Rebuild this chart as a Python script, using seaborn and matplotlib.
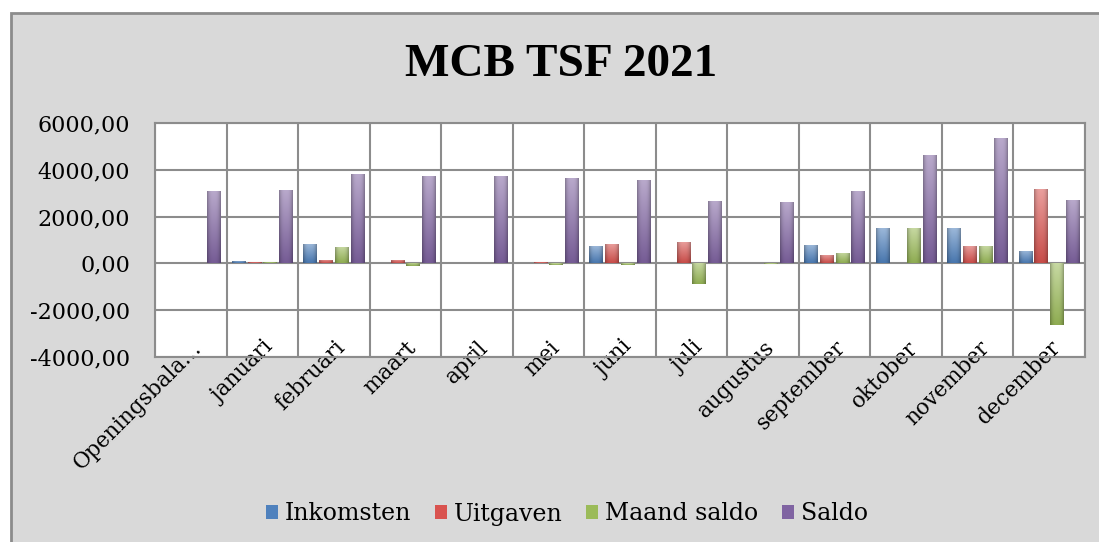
import numpy as np
import pandas as pd
import matplotlib
matplotlib.use("Agg")
import matplotlib.pyplot as plt
import matplotlib.colors as mcolors
import matplotlib.transforms as mtransforms
import seaborn as sns
from matplotlib.patches import Rectangle
from matplotlib.ticker import FuncFormatter, MultipleLocator

# chart data
months = ["Openingsbala…", "januari", "februari", "maart", "april", "mei", "juni",
          "juli", "augustus", "september", "oktober", "november", "december"]
inkomsten = [0, 120, 815, 0, 0, 0, 730, 0, 0, 800, 1500, 1500, 550]
uitgaven = [0, 70, 130, 130, 0, 80, 815, 900, 30, 380, 0, 760, 3200]
maand_saldo = [0, 50, 685, -130, 0, -80, -85, -900, -30, 440, 1500, 760, -2650]
saldo = [3100, 3150, 3830, 3720, 3720, 3640, 3550, 2650, 2640, 3100, 4620, 5350, 2700]
series = ["Inkomsten", "Uitgaven", "Maand saldo", "Saldo"]
colors = ["#4f81bd", "#d9534f", "#9bbb59", "#8064a2"]

df = pd.DataFrame({
    "maand": months * 4,
    "reeks": np.repeat(series, len(months)),
    "waarde": inkomsten + uitgaven + maand_saldo + saldo,
})

sns.set_theme(style="white")
plt.rcParams["font.family"] = ["DejaVu Serif"]
plt.rcParams["text.color"] = "black"
plt.rcParams["xtick.color"] = "black"
plt.rcParams["ytick.color"] = "black"

fig = plt.figure(figsize=(10.99, 5.42), dpi=100, facecolor="white")
# gray chart area with border
fig.patches.append(Rectangle((11 / 1099, -0.02), 1.0, 1 - 13 / 542 + 0.02,
                             transform=fig.transFigure, facecolor="#d9d9d9",
                             edgecolor="#8c8c8c", linewidth=2, zorder=-5))

ax = fig.add_axes([155 / 1099, 1 - 357 / 542, 930 / 1099, 234 / 542])
ax.set_facecolor("white")

sns.barplot(data=df, x="maand", y="waarde", hue="reeks", hue_order=series,
            palette=colors, width=0.88, gap=0.12, ax=ax, legend=True,
            edgecolor="none", saturation=1)

# glossy shading on the bars: light near the zero line end, darker sides
for bar in list(ax.patches):
    h = bar.get_height()
    if h == 0:
        continue
    base = np.array(mcolors.to_rgb(bar.get_facecolor()))
    light = base + (1 - base) * 0.45
    t = np.linspace(0, 1, 64)[:, None, None]
    u = np.linspace(-1, 1, 32)[None, :, None]
    rgb = light * (1 - t) + base * 0.92 * t
    rgb = rgb * (1 - 0.28 * np.abs(u) ** 3)
    img = np.clip(rgb, 0, 1)
    x0 = bar.get_x()
    y0, y1 = sorted([bar.get_y(), bar.get_y() + h])
    im = ax.imshow(img, extent=[x0, x0 + bar.get_width(), y0, y1], origin="upper",
                   aspect="auto", interpolation="bilinear", zorder=bar.get_zorder() + 0.1)
    im.set_clip_path(bar)

ax.set_xlim(-0.5, len(months) - 0.5)
ax.set_ylim(-4000, 6000)
ax.yaxis.set_major_locator(MultipleLocator(2000))
ax.yaxis.set_major_formatter(FuncFormatter(lambda v, p: f"{v:.2f}".replace(".", ",")))
ax.set_xticks(np.arange(len(months) + 1) - 0.5, minor=True)
ax.set_axisbelow(True)
ax.grid(True, axis="y", which="major", color="#8c8c8c", linewidth=1.5)
ax.grid(True, axis="x", which="minor", color="#8c8c8c", linewidth=1.5)
ax.grid(False, axis="x", which="major")
for sp in ax.spines.values():
    sp.set_color("#8c8c8c")
    sp.set_linewidth(1.5)

ax.set_xlabel("")
ax.set_ylabel("")
ax.tick_params(axis="y", length=0, pad=18, labelsize=16)
ax.tick_params(axis="x", which="both", length=0, pad=-4, labelsize=15.5)
shift = mtransforms.ScaledTranslation(8 / 100, 7 / 100, fig.dpi_scale_trans)
for lbl in ax.get_xticklabels():
    lbl.set_rotation(45)
    lbl.set_ha("right")
    lbl.set_va("center")
    lbl.set_rotation_mode("anchor")
    lbl.set_transform(lbl.get_transform() + shift)

fig.text(561 / 1099, 1 - 65 / 542, "MCB TSF 2021", ha="center", va="center",
         fontsize=34, fontweight="bold", family="Liberation Serif")

handles, labels = ax.get_legend_handles_labels()
ax.legend(handles, labels, loc="center", bbox_to_anchor=(567 / 1099, 1 - 514 / 542),
          bbox_transform=fig.transFigure, ncol=4, frameon=False, fontsize=17,
          handlelength=0.5, handleheight=0.5, handletextpad=0.3, columnspacing=1.0)

fig.savefig("out.png", dpi=100, facecolor=fig.get_facecolor())
